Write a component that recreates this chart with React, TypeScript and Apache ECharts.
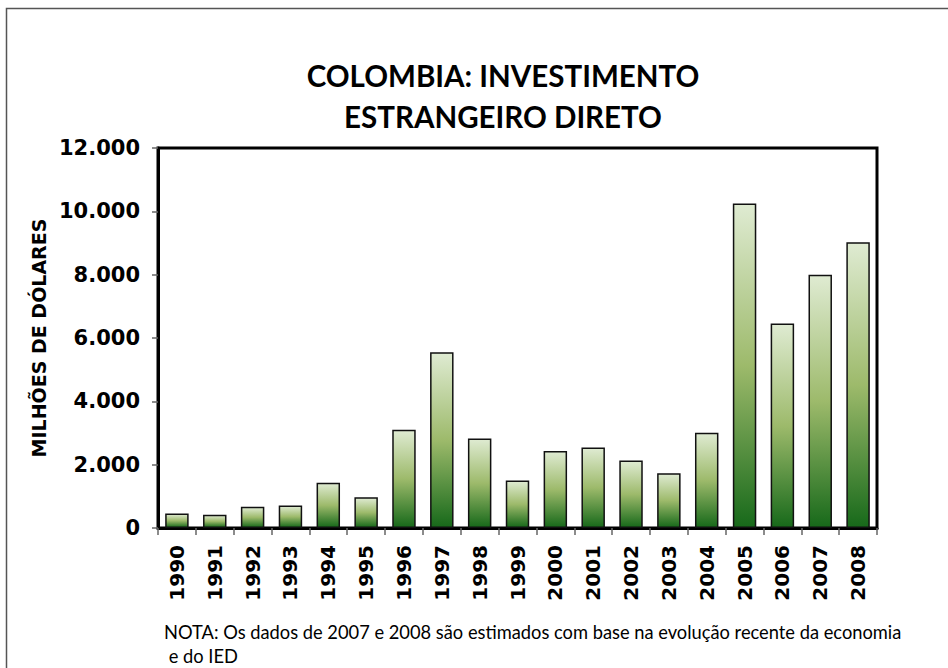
import React, { useEffect, useRef } from "react";
import * as echarts from "echarts";

const years = ["1990","1991","1992","1993","1994","1995","1996","1997","1998","1999","2000","2001","2002","2003","2004","2005","2006","2007","2008"];
const fdi = [460, 420, 670, 710, 1430, 970, 3100, 5550, 2830, 1500, 2430, 2540, 2130, 1730, 3010, 10250, 6460, 8000, 9020];
const yTicks = { min: 0, max: 12000, interval: 2000 };
const titleLines = ["COLOMBIA: INVESTIMENTO", "ESTRANGEIRO DIRETO"];
const yName = "MILHÕES DE DÓLARES";
const noteLines = ["NOTA: Os dados de 2007 e 2008 são estimados com base na evolução recente da economia", " e do IED"];

export default function App() {
  const ref = useRef<HTMLDivElement>(null);
  useEffect(() => {
    document.body.style.margin = "0";
    const chart = echarts.init(ref.current!, null, { renderer: "svg" });
    const fmt = (v: number) => String(v).replace(/\B(?=(\d{3})+(?!\d))/g, ".");
    chart.setOption({
      animation: false,
      backgroundColor: "#ffffff",
      grid: { left: 158, top: 148, right: 71, bottom: 140, show: true, borderColor: "#000", borderWidth: 3, backgroundColor: "transparent" },
      graphic: [
        { type: "rect", shape: { x: 6.5, y: 8.5, width: 1000, height: 1000 }, style: { fill: "none", stroke: "#555", lineWidth: 1.5 }, silent: true },
        { type: "text", x: 503, y: 75, style: { text: titleLines[0], font: "bold 29.5px Lato", fill: "#000", textAlign: "center", textVerticalAlign: "middle" } },
        { type: "text", x: 503, y: 116, style: { text: titleLines[1], font: "bold 29.5px Lato", fill: "#000", textAlign: "center", textVerticalAlign: "middle" } },
        { type: "text", x: 164, y: 632, style: { text: noteLines[0], font: "18.3px Lato", fill: "#000", textAlign: "left", textVerticalAlign: "middle" } },
        { type: "text", x: 164, y: 656, style: { text: noteLines[1], font: "18.3px Lato", fill: "#000", textAlign: "left", textVerticalAlign: "middle" } },
      ],
      xAxis: {
        type: "category",
        data: years,
        axisLine: { lineStyle: { color: "#000", width: 3 } },
        axisTick: { show: true, length: 7, lineStyle: { color: "#666", width: 1.5 } },
        axisLabel: { rotate: 90, margin: 17, fontFamily: "DejaVu Sans", fontWeight: "bold", fontSize: 20, color: "#000" },
      },
      yAxis: {
        type: "value",
        min: yTicks.min,
        max: yTicks.max,
        interval: yTicks.interval,
        name: yName,
        nameLocation: "middle",
        nameGap: 110,
        nameRotate: 90,
        nameTextStyle: { fontFamily: "DejaVu Sans", fontWeight: "bold", fontSize: 19, color: "#000" },
        axisLine: { show: true, lineStyle: { color: "#000", width: 3 } },
        axisTick: { show: true, length: 6, lineStyle: { color: "#666", width: 1.5 } },
        splitLine: { show: false },
        axisLabel: { formatter: fmt, margin: 18, fontFamily: "DejaVu Sans", fontWeight: "bold", fontSize: 21, color: "#000" },
      },
      series: [
        {
          type: "bar",
          data: fdi,
          barCategoryGap: "38%",
          itemStyle: {
            borderColor: "#111",
            borderWidth: 1.5,
            color: new echarts.graphic.LinearGradient(0, 0, 0, 1, [
              { offset: 0, color: "#dfebd2" },
              { offset: 0.5, color: "#9dba6b" },
              { offset: 1, color: "#17691a" },
            ]),
          },
        },
      ],
    });
    return () => chart.dispose();
  }, []);
  return <div ref={ref} style={{ width: 948, height: 668 }} />;
}
